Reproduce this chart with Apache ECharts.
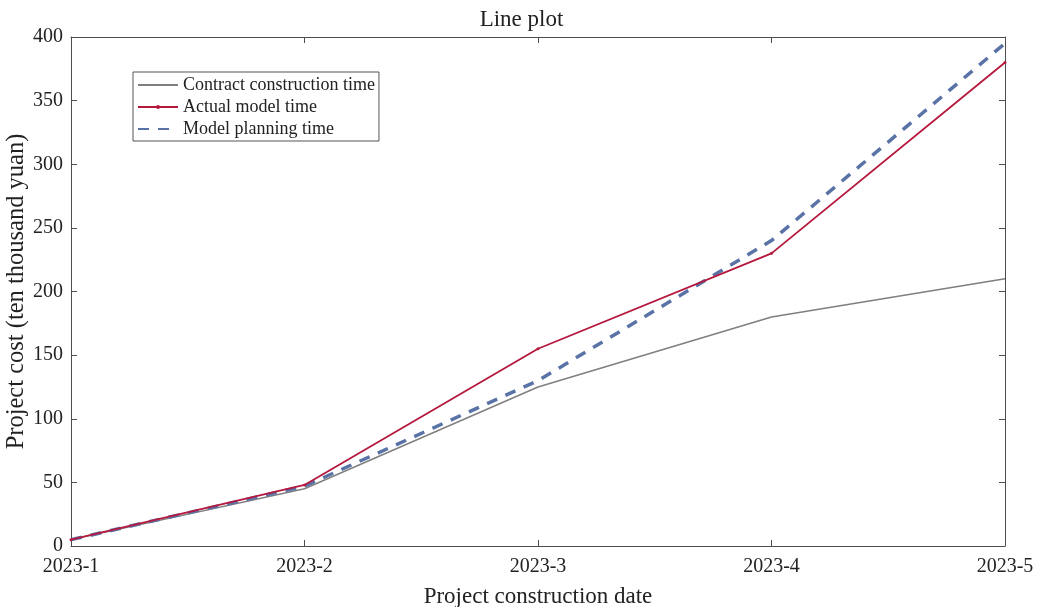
<!DOCTYPE html>
<html><head><meta charset="utf-8">
<script src="https://cdn.jsdelivr.net/npm/echarts@6/dist/echarts.min.js"></script>
<style>html,body{margin:0;padding:0;background:#fff}#c{width:1043px;height:607px}</style>
</head><body><div id="c"></div>
<script>
const categories = ['2023-1','2023-2','2023-3','2023-4','2023-5'];
const contractTime = [5, 45, 125, 180, 210];
const actualTime = [5, 48, 155, 230, 380];
const planningTime = [5, 47, 130, 240, 395];
const yTicks = {min: 0, max: 400, interval: 50};

const font = 'Liberation Serif';
const axisColor = '#4d4d4d';
const hidden = {color: 'rgba(0,0,0,0)', borderWidth: 0};
const chart = echarts.init(document.getElementById('c'));
chart.setOption({
  animation: false,
  backgroundColor: '#fff',
  textStyle: {fontFamily: font},
  title: {text: 'Line plot', left: 'center', top: 3, textStyle: {fontFamily: font, fontSize: 23, fontWeight: 'normal', color: '#222'}},
  grid: {left: 71, right: 38, top: 37, bottom: 61, containLabel: false, outerBoundsMode: 'none'},
  legend: {
    orient: 'vertical', left: 133, top: 72, padding: [4, 4, 3, 4], itemGap: 4,
    itemWidth: 40, itemHeight: 5,
    borderColor: '#555', borderWidth: 1, backgroundColor: '#fff',
    textStyle: {fontFamily: font, fontSize: 18, color: '#222'},
    data: [
      {name: 'Contract construction time', itemStyle: hidden},
      {name: 'Actual model time'},
      {name: 'Model planning time', itemStyle: hidden}
    ]
  },
  xAxis: [{
    type: 'category', data: categories, boundaryGap: false,
    name: 'Project construction date', nameLocation: 'middle', nameGap: 39,
    nameTextStyle: {fontFamily: font, fontSize: 23, color: '#222'},
    axisLine: {onZero: false, lineStyle: {color: axisColor}},
    axisTick: {inside: true, length: 6, lineStyle: {color: axisColor}},
    axisLabel: {fontFamily: font, fontSize: 20, color: '#222', margin: 11, showMinLabel: true, showMaxLabel: true},
    splitLine: {show: false}
  }, {
    type: 'category', data: categories, boundaryGap: false, position: 'top',
    axisLine: {onZero: false, lineStyle: {color: axisColor}},
    axisTick: {inside: true, length: 6, lineStyle: {color: axisColor}},
    axisLabel: {show: false}, splitLine: {show: false}
  }],
  yAxis: [{
    type: 'value', min: yTicks.min, max: yTicks.max, interval: yTicks.interval,
    name: 'Project cost (ten thousand yuan)', nameLocation: 'middle', nameGap: 42,
    nameMoveOverlap: false,
    nameTextStyle: {fontFamily: font, fontSize: 24.5, color: '#222'},
    axisLine: {show: true, onZero: false, lineStyle: {color: axisColor}},
    axisTick: {show: true, inside: true, length: 6, lineStyle: {color: axisColor}},
    axisLabel: {fontFamily: font, fontSize: 20, color: '#222', margin: 8},
    splitLine: {show: false}
  }, {
    type: 'value', min: yTicks.min, max: yTicks.max, interval: yTicks.interval, position: 'right',
    axisLine: {show: true, onZero: false, lineStyle: {color: axisColor}},
    axisTick: {show: true, inside: true, length: 6, lineStyle: {color: axisColor}},
    axisLabel: {show: false}, splitLine: {show: false}
  }],
  series: [{
    name: 'Contract construction time', type: 'line', data: contractTime,
    showSymbol: false, symbol: 'none', color: '#7f7f7f',
    lineStyle: {width: 1.5, color: '#7f7f7f'}, z: 2
  }, {
    name: 'Model planning time', type: 'line', data: planningTime,
    showSymbol: false, symbol: 'none', color: '#5a73a6',
    lineStyle: {width: 3.5, color: '#5a73a6', type: [11, 9]}, z: 3
  }, {
    name: 'Actual model time', type: 'line', data: actualTime,
    symbol: 'circle', symbolSize: 3, showSymbol: true, color: '#b5173d',
    itemStyle: {color: '#b5173d'},
    lineStyle: {width: 1.8, color: '#b5173d'}, z: 4
  }]
});
</script></body></html>
